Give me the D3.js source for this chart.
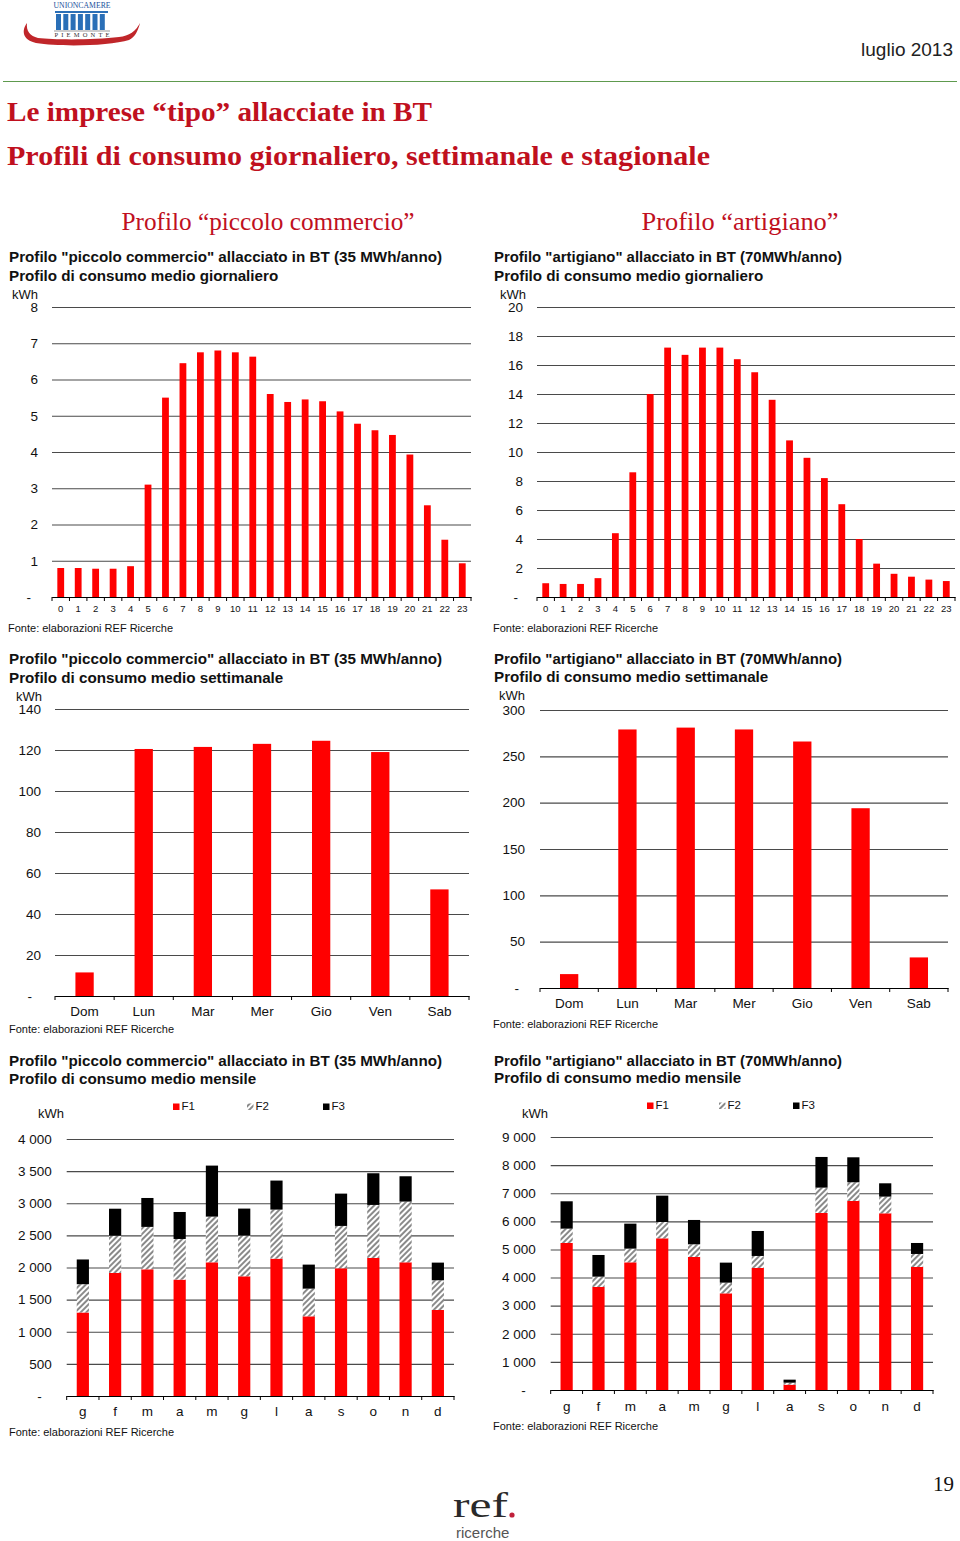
<!DOCTYPE html>
<html>
<head>
<meta charset="utf-8">
<script src="https://cdn.jsdelivr.net/npm/d3@7/dist/d3.min.js"></script>
<style>
  html, body { margin: 0; padding: 0; background: #fff; }
  svg { display: block; }
  .sans { font-family: Arial, "Liberation Sans", sans-serif; }
  .serif { font-family: "Liberation Serif", "Times New Roman", serif; }
</style>
</head>
<body>
<svg id="page" width="960" height="1541"></svg>
<script>
// ---------------- DATA ----------------
const hourLabels = ["0","1","2","3","4","5","6","7","8","9","10","11","12","13","14","15","16","17","18","19","20","21","22","23"];
const dailyCommercio = [0.80,0.80,0.78,0.78,0.85,3.10,5.50,6.45,6.75,6.80,6.75,6.63,5.60,5.38,5.45,5.40,5.12,4.78,4.60,4.47,3.93,2.53,1.58,0.93];
const dailyArtigiano = [0.95,0.90,0.90,1.30,4.40,8.60,14.0,17.2,16.7,17.2,17.2,16.4,15.5,13.6,10.8,9.6,8.2,6.4,4.0,2.3,1.6,1.4,1.2,1.1];
const dailyCommercioTicks = [0,1,2,3,4,5,6,7,8];
const dailyArtigianoTicks = [0,2,4,6,8,10,12,14,16,18,20];

const weekDays = ["Dom","Lun","Mar","Mer","Gio","Ven","Sab"];
const weeklyCommercio = [11.5,120.5,121.5,123,124.5,119,52];
const weeklyArtigiano = [15,279,281,279,266,194,33];
const weeklyCommercioTicks = [0,20,40,60,80,100,120,140];
const weeklyArtigianoTicks = [0,50,100,150,200,250,300];

const months = ["g","f","m","a","m","g","l","a","s","o","n","d"];
const bandKeys = ["F1","F2","F3"];
const monthlyCommercioF1 = [1300,1915,1972,1811,2081,1863,2138,1240,1988,2149,2081,1339];
const monthlyCommercioF2 = [440,580,660,633,711,634,763,431,659,825,945,462];
const monthlyCommercioF3 = [385,420,450,420,794,420,452,374,503,493,394,275];
const monthlyArtigianoF1 = [5230,3665,4542,5396,4732,3439,4341,190,6298,6725,6286,4376];
const monthlyArtigianoF2 = [510,367,487,581,451,380,427,71,901,664,593,463];
const monthlyArtigianoF3 = [973,771,889,937,866,712,889,107,1091,889,474,391];
const monthlyCommercioTicks = [0,500,1000,1500,2000,2500,3000,3500,4000];
const monthlyArtigianoTicks = [0,1000,2000,3000,4000,5000,6000,7000,8000,9000];

// ---------------- PAGE ----------------
const svg = d3.select("#page");
const RED_TITLE = "#c0101e";
const BAR_RED = "#ff0000";

// patterns
const defs = svg.append("defs");
const pat = defs.append("pattern").attr("id","hatch").attr("patternUnits","userSpaceOnUse")
  .attr("width",4).attr("height",4).attr("patternTransform","rotate(45)");
pat.append("rect").attr("width",4).attr("height",4).attr("fill","#ffffff");
pat.append("rect").attr("width",2).attr("height",4).attr("fill","#8a8a8a");

// ---- Unioncamere logo ----
const logo = svg.append("g");
logo.append("path")
  .attr("d","M27,23 C21,31 23,40 36,43 C60,47 110,46 129,40 C135,37 138,31 140,23 C136,31 129,36 119,37 C95,40 55,40 38,38 C30,36 26,31 27,23 Z")
  .attr("fill","#c0262a");
logo.append("text").attr("class","serif").attr("x",82).attr("y",8).attr("text-anchor","middle")
  .attr("font-size",7.5).attr("fill","#1a4f9c").attr("textLength",57).attr("lengthAdjust","spacingAndGlyphs").text("UNIONCAMERE");
logo.append("rect").attr("x",55).attr("y",11).attr("width",53).attr("height",2).attr("fill","#2a6fb7");
for (let i = 0; i < 7; i++) {
  logo.append("rect").attr("x",56 + i*7.3).attr("y",14).attr("width",5).attr("height",16).attr("fill","#2a6fb7");
}
logo.append("line").attr("x1",54).attr("x2",110).attr("y1",31).attr("y2",31).attr("stroke","#555").attr("stroke-width",0.6);
logo.append("text").attr("class","serif").attr("x",82).attr("y",37).attr("text-anchor","middle")
  .attr("font-size",6.5).attr("fill","#333").attr("textLength",55).attr("lengthAdjust","spacing").text("PIEMONTE");

svg.append("text").attr("class","sans").attr("x",953).attr("y",56).attr("text-anchor","end")
  .attr("font-size",19).attr("fill","#222").text("luglio 2013");
svg.append("line").attr("x1",3).attr("x2",957).attr("y1",81.5).attr("y2",81.5)
  .attr("stroke","#5e9a4e").attr("stroke-width",1.2);

svg.append("text").attr("class","serif").attr("x",7).attr("y",121).attr("font-size",28).attr("font-weight","bold")
  .attr("fill",RED_TITLE).attr("textLength",425).attr("lengthAdjust","spacingAndGlyphs").text("Le imprese “tipo” allacciate in BT");
svg.append("text").attr("class","serif").attr("x",7).attr("y",165).attr("font-size",28).attr("font-weight","bold")
  .attr("fill",RED_TITLE).attr("textLength",703).attr("lengthAdjust","spacingAndGlyphs").text("Profili di consumo giornaliero, settimanale e stagionale");

svg.append("text").attr("class","serif").attr("x",268).attr("y",230).attr("text-anchor","middle")
  .attr("font-size",26).attr("fill",RED_TITLE).attr("textLength",293).attr("lengthAdjust","spacingAndGlyphs").text("Profilo “piccolo commercio”");
svg.append("text").attr("class","serif").attr("x",740).attr("y",230).attr("text-anchor","middle")
  .attr("font-size",26).attr("fill",RED_TITLE).attr("textLength",197).attr("lengthAdjust","spacingAndGlyphs").text("Profilo “artigiano”");

// page number + footer logo
svg.append("text").attr("class","serif").attr("x",954).attr("y",1491).attr("text-anchor","end")
  .attr("font-size",21).attr("fill","#111").text("19");
svg.append("text").attr("class","serif").attr("x",453).attr("y",1517).attr("font-size",36)
  .attr("fill","#2a2a2a").attr("textLength",55).attr("lengthAdjust","spacingAndGlyphs").text("ref");
svg.append("circle").attr("cx",512).attr("cy",1515).attr("r",2.6).attr("fill","#c0203a");
svg.append("text").attr("class","sans").attr("x",456).attr("y",1538).attr("font-size",15)
  .attr("fill","#555").text("ricerche");

// ---------------- CHART HELPERS ----------------
const fmtNum = v => v === 0 ? "-" : d3.format(",")(v).replace(/,/g, " ");

function titleBlock(x, y1, y2, l1, l2, len1) {
  svg.append("text").attr("class","sans").attr("x",x).attr("y",y1).attr("font-size",15.2)
    .attr("font-weight","bold").attr("fill","#111")
    .attr("textLength",len1).attr("lengthAdjust","spacingAndGlyphs").text(l1);
  svg.append("text").attr("class","sans").attr("x",x).attr("y",y2).attr("font-size",15.2)
    .attr("font-weight","bold").attr("fill","#111").text(l2);
}
function label(x, y, t, size, anchor) {
  svg.append("text").attr("class","sans").attr("x",x).attr("y",y).attr("font-size",size)
    .attr("text-anchor",anchor || "start").attr("fill","#111").text(t);
}

function drawChart(o) {
  const g = svg.append("g");
  const n = o.labels.length;
  const x = d3.scaleBand().domain(d3.range(n)).range([o.x0, o.x1]);
  const y = d3.scaleLinear().domain([0, o.max]).range([o.yb, o.yt]);

  // grid + y labels
  const ya = g.append("g").attr("class","sans").attr("transform",`translate(${o.x0},0)`)
    .call(d3.axisLeft(y).tickValues(o.ticks).tickSize(-(o.x1 - o.x0)).tickPadding(o.yPad).tickFormat(fmtNum));
  ya.select(".domain").remove();
  ya.selectAll(".tick line").attr("stroke","#4a4a4a").attr("stroke-width",1.1);
  ya.selectAll(".tick text").attr("font-size",o.yFont).attr("fill","#111")
    .attr("font-family","Arial, 'Liberation Sans', sans-serif")
    .attr("dx", d => d === 0 ? -o.zeroShift : 0);

  // bars
  const bw = o.barWidth;
  if (o.values) {
    g.append("g").selectAll("rect").data(o.values).join("rect")
      .attr("x",(d,i)=> x(i) + (x.bandwidth() - bw)/2)
      .attr("width",bw)
      .attr("y",d=>y(d)).attr("height",d=>y(0)-y(d))
      .attr("fill",BAR_RED);
  } else {
    const rows = d3.range(n).map(i => ({i, F1:o.stack[0][i], F2:o.stack[1][i], F3:o.stack[2][i]}));
    const series = d3.stack().keys(bandKeys)(rows);
    const fills = {F1:BAR_RED, F2:"url(#hatch)", F3:"#000000"};
    g.append("g").selectAll("g").data(series).join("g").attr("fill", s => fills[s.key])
      .selectAll("rect").data(s => s).join("rect")
      .attr("x", d => x(d.data.i) + (x.bandwidth() - bw)/2)
      .attr("width", bw)
      .attr("y", d => y(d[1])).attr("height", d => y(d[0]) - y(d[1]));
  }

  // x axis
  const xa = g.append("g").attr("class","sans").attr("transform",`translate(0,${o.yb})`)
    .call(d3.axisBottom(x).tickSize(0).tickPadding(o.xPad).tickFormat(i => o.labels[i]));
  xa.select(".domain").attr("stroke","#000").attr("stroke-width",1.2);
  xa.selectAll(".tick text").attr("font-size",o.xFont).attr("fill","#111")
    .attr("font-family","Arial, 'Liberation Sans', sans-serif");
  g.append("g").selectAll("line").data(d3.range(n + 1)).join("line")
    .attr("x1", i => o.x0 + i * x.step()).attr("x2", i => o.x0 + i * x.step())
    .attr("y1", o.yb).attr("y2", o.yb + 4).attr("stroke","#000").attr("stroke-width",1);
}

function legend(items) {
  items.forEach(it => {
    svg.append("rect").attr("x",it.x).attr("y",it.y - 6.5).attr("width",6.5).attr("height",6.5).attr("fill",it.fill);
    label(it.x + 8.5, it.y, it.t, 11.5);
  });
}

// ---------------- DAILY ----------------
titleBlock(9, 262, 281, "Profilo \"piccolo commercio\" allacciato in BT (35 MWh/anno)", "Profilo di consumo medio giornaliero", 433);
label(12, 299, "kWh", 13);
drawChart({x0:52, x1:471, yt:307, yb:597, max:8, ticks:dailyCommercioTicks, labels:hourLabels,
  values:dailyCommercio, barWidth:6.8, yPad:14, yFont:13.5, zeroShift:7, xPad:8.5, xFont:9.5});
label(8, 632, "Fonte: elaborazioni REF Ricerche", 11);

titleBlock(494, 262, 281, "Profilo \"artigiano\" allacciato in BT (70MWh/anno)", "Profilo di consumo medio giornaliero", 348);
label(500, 299, "kWh", 13);
drawChart({x0:537, x1:955, yt:307, yb:597, max:20, ticks:dailyArtigianoTicks, labels:hourLabels,
  values:dailyArtigiano, barWidth:6.8, yPad:14, yFont:13.5, zeroShift:5, xPad:8.5, xFont:9.5});
label(493, 632, "Fonte: elaborazioni REF Ricerche", 11);

// ---------------- WEEKLY ----------------
titleBlock(9, 664, 683, "Profilo \"piccolo commercio\" allacciato in BT (35 MWh/anno)", "Profilo di consumo medio settimanale", 433);
label(16, 701, "kWh", 13);
drawChart({x0:55, x1:469, yt:709, yb:996, max:140, ticks:weeklyCommercioTicks, labels:weekDays,
  values:weeklyCommercio, barWidth:18.3, yPad:14, yFont:13.5, zeroShift:9, xPad:10.5, xFont:13.5});
label(9, 1033, "Fonte: elaborazioni REF Ricerche", 11);

titleBlock(494, 664, 682, "Profilo \"artigiano\" allacciato in BT (70MWh/anno)", "Profilo di consumo medio settimanale", 348);
label(499, 700, "kWh", 13);
drawChart({x0:540, x1:948, yt:710, yb:988, max:300, ticks:weeklyArtigianoTicks, labels:weekDays,
  values:weeklyArtigiano, barWidth:18.3, yPad:15, yFont:13.5, zeroShift:6, xPad:10, xFont:13.5});
label(493, 1028, "Fonte: elaborazioni REF Ricerche", 11);

// ---------------- MONTHLY ----------------
titleBlock(9, 1066, 1084, "Profilo \"piccolo commercio\" allacciato in BT (35 MWh/anno)", "Profilo di consumo medio mensile", 433);
label(38, 1118, "kWh", 13);
legend([{x:173, y:1110, fill:BAR_RED, t:"F1"}, {x:247, y:1110, fill:"url(#hatch)", t:"F2"}, {x:323, y:1110, fill:"#000", t:"F3"}]);
drawChart({x0:66.7, x1:454, yt:1139, yb:1396, max:4000, ticks:monthlyCommercioTicks, labels:months,
  stack:[monthlyCommercioF1, monthlyCommercioF2, monthlyCommercioF3], barWidth:12.2, yPad:15, yFont:13.5, zeroShift:10, xPad:10.5, xFont:13.5});
label(9, 1436, "Fonte: elaborazioni REF Ricerche", 11);

titleBlock(494, 1066, 1083, "Profilo \"artigiano\" allacciato in BT (70MWh/anno)", "Profilo di consumo medio mensile", 348);
label(522, 1118, "kWh", 13);
legend([{x:647, y:1109, fill:BAR_RED, t:"F1"}, {x:719, y:1109, fill:"url(#hatch)", t:"F2"}, {x:793, y:1109, fill:"#000", t:"F3"}]);
drawChart({x0:550.7, x1:933, yt:1137, yb:1390, max:9000, ticks:monthlyArtigianoTicks, labels:months,
  stack:[monthlyArtigianoF1, monthlyArtigianoF2, monthlyArtigianoF3], barWidth:12.2, yPad:15, yFont:13.5, zeroShift:10, xPad:11, xFont:13.5});
label(493, 1430, "Fonte: elaborazioni REF Ricerche", 11);
</script>
</body>
</html>
